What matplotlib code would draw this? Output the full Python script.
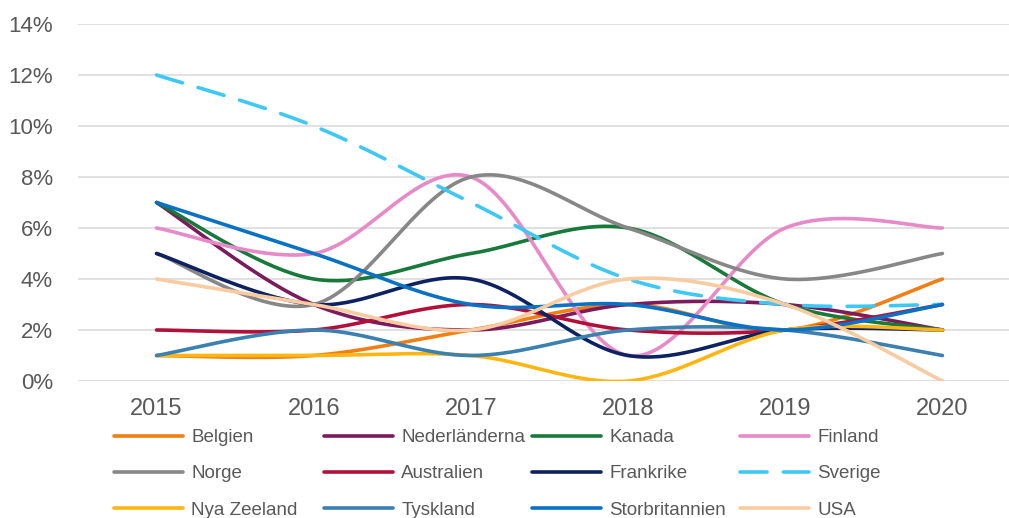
import matplotlib
matplotlib.use("Agg")
import matplotlib.pyplot as plt
import numpy as np

plt.rcParams['font.family'] = ['Liberation Sans', 'DejaVu Sans']

years = ['2015', '2016', '2017', '2018', '2019', '2020']

belgien = [1, 1, 2, 3, 2, 4]
nederlanderna = [7, 3, 2, 3, 3, 2]
kanada = [7, 4, 5, 6, 3, 2]
finland = [6, 5, 8, 1, 6, 6]
norge = [5, 3, 8, 6, 4, 5]
australien = [2, 2, 3, 2, 2, 3]
frankrike = [5, 3, 4, 1, 2, 2]
sverige = [12, 10, 7, 4, 3, 3]
nya_zeeland = [1, 1, 1, 0, 2, 2]
tyskland = [1, 2, 1, 2, 2, 1]
storbritannien = [7, 5, 3, 3, 2, 3]
usa = [4, 3, 2, 4, 3, 0]

series = [
    ('Belgien', belgien, '#F07F14', '-'),
    ('Nederländerna', nederlanderna, '#7B1B5C', '-'),
    ('Kanada', kanada, '#17793A', '-'),
    ('Finland', finland, '#E68AC8', '-'),
    ('Norge', norge, '#878787', '-'),
    ('Australien', australien, '#B0113A', '-'),
    ('Frankrike', frankrike, '#0D2261', '-'),
    ('Sverige', sverige, '#3EC8F5', '--'),
    ('Nya Zeeland', nya_zeeland, '#FFB612', '-'),
    ('Tyskland', tyskland, '#3A80B0', '-'),
    ('Storbritannien', storbritannien, '#0A72C4', '-'),
    ('USA', usa, '#F8CBA0', '-'),
]


# excel-ish smoothed line (bezier with catmull-rom control points)
def smooth(vals, steps=40):
    x = np.arange(len(vals), dtype=float)
    y = np.array(vals, dtype=float) / 100
    xs, ys = [], []
    n = len(x)
    for i in range(n - 1):
        i0 = max(i - 1, 0)
        i3 = min(i + 2, n - 1)
        p1 = np.array([x[i], y[i]])
        p2 = np.array([x[i + 1], y[i + 1]])
        p0 = np.array([x[i0], y[i0]])
        p3 = np.array([x[i3], y[i3]])
        c1 = p1 + (p2 - p0) / 6
        c2 = p2 - (p3 - p1) / 6
        t = np.linspace(0, 1, steps)[:, None]
        b = ((1 - t) ** 3) * p1 + 3 * ((1 - t) ** 2) * t * c1 + 3 * (1 - t) * t ** 2 * c2 + t ** 3 * p2
        if i > 0:
            b = b[1:]
        xs.extend(b[:, 0])
        ys.extend(b[:, 1])
    return xs, ys


fig = plt.figure(figsize=(10.09, 5.18), dpi=100)
ax = fig.add_axes([78 / 1009, 137 / 518, 943 / 1009, 357 / 518])

lines = []
for name, vals, col, ls in series:
    xs, ys = smooth(vals)
    if ls == '--':
        ln, = ax.plot(xs, ys, color=col, lw=2.6, dashes=(7.5, 4.5),
                      dash_capstyle='round', label=name)
    else:
        ln, = ax.plot(xs, ys, color=col, lw=2.6, solid_capstyle='round', label=name)
    lines.append(ln)

ax.set_xlim(-0.5, 5.5)
ax.set_ylim(0, 0.14)
ax.set_yticks(np.arange(0, 0.141, 0.02))
ax.set_yticklabels([f'{int(round(v * 100))}%' for v in np.arange(0, 0.141, 0.02)])
ax.set_xticks(range(len(years)))
ax.set_xticklabels(years)
ax.tick_params(axis='y', length=0, pad=18, labelsize=16, labelcolor='#595959')
ax.tick_params(axis='x', length=0, pad=12, labelsize=17, labelcolor='#595959')
ax.yaxis.grid(True, color='#D9D9D9', lw=1.1)
ax.set_axisbelow(True)
for s in ax.spines.values():
    s.set_visible(False)

# legend: 4 columns with fixed widths like excel
col_x = [114, 324, 532, 740]
for c in range(4):
    hs = [lines[c + 4 * r] for r in range(3)]
    fig.legend(hs, [h.get_label() for h in hs], loc='upper left',
               bbox_to_anchor=(col_x[c] / 1009, 1 - 429 / 518),
               frameon=False, borderaxespad=0, borderpad=0,
               handlelength=3.7, handletextpad=0.43, labelspacing=1.02,
               fontsize=13.5, labelcolor='#595959')

fig.savefig('out.png', dpi=100)
